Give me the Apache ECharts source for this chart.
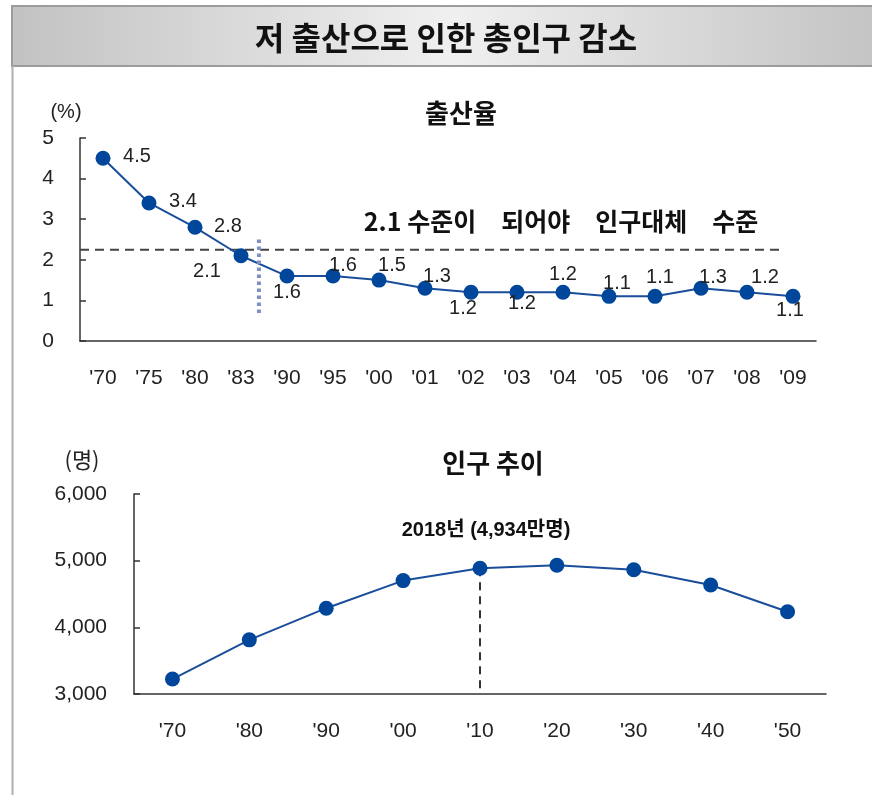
<!DOCTYPE html>
<html>
<head>
<meta charset="utf-8">
<script src="https://cdn.jsdelivr.net/npm/echarts@6/dist/echarts.min.js"></script>
<style>
  html, body { margin: 0; padding: 0; background: #fff; }
  #chart { width: 872px; height: 795px; }
</style>
</head>
<body>
<div id="chart"></div>
<script>
// Total fertility rate by year
const rateYears = ["'70", "'75", "'80", "'83", "'90", "'95", "'00", "'01", "'02", "'03", "'04", "'05", "'06", "'07", "'08", "'09"];
const birthRates = [4.5, 3.4, 2.8, 2.1, 1.6, 1.6, 1.5, 1.3, 1.2, 1.2, 1.2, 1.1, 1.1, 1.3, 1.2, 1.1];
const rateTicks = [0, 1, 2, 3, 4, 5];

// Replacement-level guide line (value scale spanning the 16 category slots)
const replacementLineX = [0, 15.28];
const replacementLineY = [2.25, 2.25];
// Dotted divider after '83
const dividerX = [3.89, 3.89];
const dividerY = [0.69, 2.54];

// Total population (10,000 persons)
const popYears = ["'70", "'80", "'90", "'00", "'10", "'20", "'30", "'40", "'50"];
const population = [3224, 3812, 4287, 4701, 4887, 4932, 4863, 4634, 4234];
const popTicks = [3000, 4000, 5000, 6000];
const peakIndex = 4;

// Label placement per point (pixel offset from the marker centre)
const rateLabelOffsets = [
  [34, -2], [34, -1], [33, -1], [-34, 16], [0, 16], [10, -11], [13, -15], [12, -12],
  [-8, 16], [5, 11], [0, -18], [8, -13], [5, -19], [12, -11], [18, -15], [-3, 14]
];

const FONT = "'Liberation Sans', Arial, 'Noto Sans CJK KR', sans-serif";
const KFONT = "'Noto Sans CJK KR', 'Liberation Sans', sans-serif";
const LINE_COLOR = '#1a4e9a';
const DOT_COLOR = '#00469a';
const AXIS_COLOR = '#333';

const chart = echarts.init(document.getElementById('chart'), null, { renderer: 'canvas' });

const catAxis = (gridIndex, data) => ({
  type: 'category', gridIndex, data, boundaryGap: true,
  axisLine: { lineStyle: { color: AXIS_COLOR, width: 1.5 } },
  axisTick: { inside: true, length: 6, lineStyle: { color: AXIS_COLOR, width: 1.5 } },
  axisLabel: { margin: 27, fontSize: 21, color: '#222', fontFamily: FONT },
  splitLine: { show: false }
});

const hiddenValueX = (gridIndex, max) => ({
  type: 'value', gridIndex, min: 0, max, show: false, splitLine: { show: false }
});

const valAxis = (gridIndex, ticks, margin, fmt) => ({
  type: 'value', gridIndex,
  min: ticks[0], max: ticks[ticks.length - 1], interval: ticks[1] - ticks[0],
  axisLine: { show: true, lineStyle: { color: AXIS_COLOR, width: 1.5 } },
  axisTick: { show: true, inside: true, length: 6, lineStyle: { color: AXIS_COLOR, width: 1.5 } },
  axisLabel: { margin, fontSize: 21, color: '#222', fontFamily: FONT, formatter: fmt },
  splitLine: { show: false }
});

const option = {
  animation: false,
  backgroundColor: '#fff',
  textStyle: { fontFamily: FONT },
  graphic: [
    {
      type: 'rect', z: 0,
      shape: { x: 12, y: 6, width: 880, height: 60 },
      style: {
        fill: new echarts.graphic.LinearGradient(0, 0, 1, 0, [
          { offset: 0, color: '#c2c2c2' },
          { offset: 0.5, color: '#f0f0f0' },
          { offset: 1, color: '#c2c2c2' }
        ]),
        stroke: '#9c9c9c', lineWidth: 2
      }
    },
    {
      type: 'line', z: 0,
      shape: { x1: 12.5, y1: 66, x2: 12.5, y2: 795 },
      style: { stroke: '#b0b0b0', lineWidth: 2 }
    },
    {
      type: 'text', z: 10, x: 446, y: 38,
      style: {
        text: '저 출산으로 인한 총인구 감소',
        font: "bold 32px " + KFONT, fill: '#111', align: 'center', verticalAlign: 'middle'
      }
    }
  ],
  title: [
    { text: '출산율', left: 456, top: 108, textAlign: 'center', textVerticalAlign: 'middle',
      textStyle: { fontSize: 26, fontWeight: 'bold', color: '#111', fontFamily: KFONT } },
    { text: '(%)', left: 61, top: 107, textAlign: 'center', textVerticalAlign: 'middle',
      textStyle: { fontSize: 20, fontWeight: 'normal', color: '#222', fontFamily: FONT } },
    { text: '2.1 수준이\u3000되어야\u3000인구대체\u3000수준', left: 556, top: 216, textAlign: 'center', textVerticalAlign: 'middle',
      textStyle: { fontSize: 25, fontWeight: 'bold', color: '#111', fontFamily: KFONT } },
    { text: '인구 추이', left: 488, top: 458, textAlign: 'center', textVerticalAlign: 'middle',
      textStyle: { fontSize: 26, fontWeight: 'bold', color: '#111', fontFamily: KFONT } },
    { text: '(명)', left: 77, top: 455, textAlign: 'center', textVerticalAlign: 'middle',
      textStyle: { fontSize: 22, fontWeight: 'normal', color: '#222', fontFamily: KFONT } },
    { text: '2018년 (4,934만명)', left: 481, top: 525, textAlign: 'center', textVerticalAlign: 'middle',
      textStyle: { fontSize: 20, fontWeight: 'bold', color: '#111', fontFamily: FONT } }
  ],
  grid: [
    { left: 80, top: 138, width: 736, height: 203 },
    { left: 134, top: 494, width: 692, height: 200 }
  ],
  xAxis: [
    catAxis(0, rateYears),
    catAxis(1, popYears),
    hiddenValueX(0, rateYears.length),
    hiddenValueX(1, popYears.length)
  ],
  yAxis: [
    valAxis(0, rateTicks, 26, v => String(v)),
    valAxis(1, popTicks, 27, v => v.toLocaleString('en-US'))
  ],
  series: [
    {
      name: 'replacement', type: 'line', xAxisIndex: 2, yAxisIndex: 0, z: 1,
      data: replacementLineX.map((x, i) => [x, replacementLineY[i]]),
      symbol: 'none', silent: true,
      lineStyle: { color: '#444', width: 2, type: [9, 6] }
    },
    {
      name: 'divider', type: 'line', xAxisIndex: 2, yAxisIndex: 0, z: 4,
      data: dividerX.map((x, i) => [x, dividerY[i]]),
      symbol: 'none', silent: true,
      lineStyle: { color: '#7f90c2', width: 4, type: [3.5, 3.5] }
    },
    {
      name: '출산율', type: 'line', xAxisIndex: 0, yAxisIndex: 0, z: 3,
      data: birthRates.map((v, i) => ({ value: v, label: { offset: rateLabelOffsets[i] } })),
      symbol: 'circle', symbolSize: 15,
      itemStyle: { color: DOT_COLOR },
      lineStyle: { color: LINE_COLOR, width: 2 },
      label: {
        show: true, position: 'inside', fontSize: 20, color: '#222', fontFamily: FONT,
        formatter: p => p.value.toFixed(1)
      }
    },
    {
      name: '인구', type: 'line', xAxisIndex: 1, yAxisIndex: 1, z: 3,
      data: population,
      symbol: 'circle', symbolSize: 15,
      itemStyle: { color: DOT_COLOR },
      lineStyle: { color: LINE_COLOR, width: 2 },
      markLine: {
        silent: true, symbol: 'none', z: 1,
        label: { show: false },
        lineStyle: { color: '#333', width: 2, type: [8, 6] },
        data: [[
          { coord: [popYears[peakIndex], population[peakIndex]] },
          { coord: [popYears[peakIndex], popTicks[0]] }
        ]]
      }
    }
  ]
};

chart.setOption(option);
</script>
</body>
</html>
